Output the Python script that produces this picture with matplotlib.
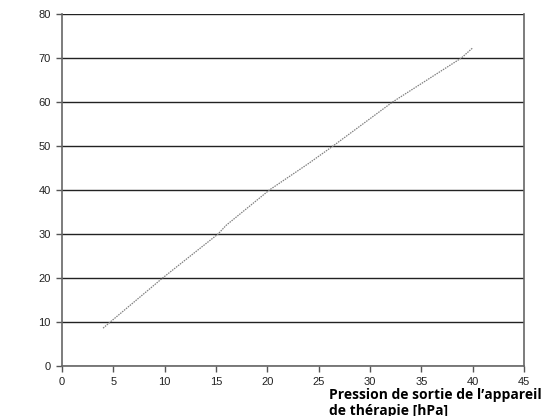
import matplotlib
matplotlib.use("Agg")
import matplotlib.pyplot as plt

# valeurs
pression = [4.0, 4.7, 9.8, 15.2, 16.0, 20.2, 24.0, 26.4, 32.2, 38.9, 40.0]
valeurs = [8.6, 10.0, 20.0, 30.0, 32.0, 40.0, 46.0, 50.0, 60.0, 70.0, 72.3]

xticks = list(range(0, 50, 5))
yticks = list(range(0, 90, 10))

plt.rcParams['font.family'] = ['Liberation Sans', 'DejaVu Sans']

fig = plt.figure(figsize=(5.56, 4.16), dpi=100)
ax = fig.add_axes([62/556, 50/416, 462/556, 352/416])

for y in yticks:
    ax.axhline(y, color='#222222', lw=1.0, zorder=1)

ax.plot(pression, valeurs, color='#808080', lw=0.9, ls=(0, (1.2, 0.8)), zorder=3)

ax.set_xlim(0, 45)
ax.set_ylim(0, 80)
ax.set_xticks(xticks)
ax.set_yticks(yticks)
ax.tick_params(direction='out', length=4, width=1, colors='#555555', labelcolor='#222222', labelsize=8, pad=4)
for s in ['left', 'bottom', 'right']:
    ax.spines[s].set_color('#666666')
    ax.spines[s].set_linewidth(1.2)
ax.spines['top'].set_visible(False)

fig.text(329/556, 1 - 388/416, "Pression de sortie de l\u2019appareil\nde thérapie [hPa]",
         fontsize=10, fontweight='bold', family=['Open Sans', 'DejaVu Sans'],
         ha='left', va='top', linespacing=1.15)

fig.savefig("out.png", dpi=100)
